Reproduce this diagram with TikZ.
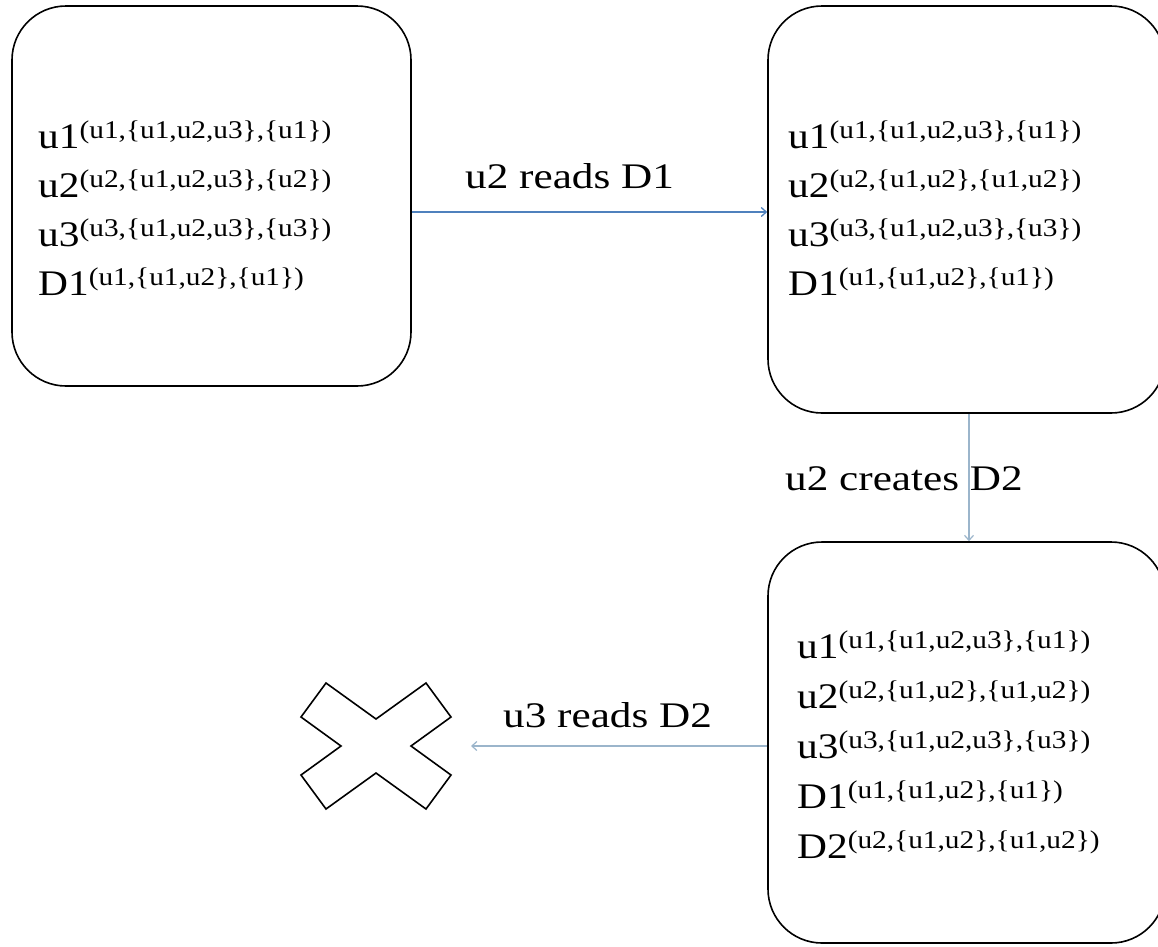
\documentclass[tikz,border=0pt]{standalone}
\usepackage{fontspec}
\usepackage{graphicx}
\setmainfont{Liberation Serif}
\usetikzlibrary{arrows.meta}
\definecolor{arrblue}{HTML}{4F81BD}
\definecolor{arrgrey}{HTML}{9BB5CB}
\newcommand\entry[2]{\scalebox{1.15}[1]{{\fontsize{36}{36}\selectfont #1}\raisebox{9.5pt}{\fontsize{25.5}{25.5}\selectfont #2}}}
\newcommand\lbltext[1]{\scalebox{1.2}[1]{\fontsize{36}{36}\selectfont #1}}
\tikzset{
  statebox/.style={draw=black, line width=1.6pt, rounded corners=54pt, inner sep=0pt},
  entrytxt/.style={anchor=base west, inner sep=0pt},
  arrA/.style={draw=arrblue, line width=1.3pt, -{Straight Barb[length=5pt,width=9pt]}},
  arrB/.style={draw=arrgrey, line width=1.2pt, -{Straight Barb[length=5pt,width=9pt]}},
  crossshape/.style={draw=black, line width=1.6pt, line join=miter},
}
\begin{document}
\begin{tikzpicture}[x=1pt,y=-1pt]
\useasboundingbox (0,0) rectangle (1158,946);
\clip (0,0) rectangle (1158,946);
% boxes
\node[statebox, minimum width=399pt, minimum height=380pt] (A) at (211.5,196) {};
\node[statebox, minimum width=397pt, minimum height=407pt] (B) at (966.5,209.5) {};
\node[statebox, minimum width=397pt, minimum height=401pt] (C) at (966.5,742.5) {};
% box A entries
\node[entrytxt] (a1) at (38,148) {\entry{u1}{(u1,\{u1,u2,u3\},\{u1\})}};
\node[entrytxt] (a2) at (38,197) {\entry{u2}{(u2,\{u1,u2,u3\},\{u2\})}};
\node[entrytxt] (a3) at (38,246) {\entry{u3}{(u3,\{u1,u2,u3\},\{u3\})}};
\node[entrytxt] (a4) at (38,295) {\entry{D1}{(u1,\{u1,u2\},\{u1\})}};
% box B entries
\node[entrytxt] (b1) at (788,148) {\entry{u1}{(u1,\{u1,u2,u3\},\{u1\})}};
\node[entrytxt] (b2) at (788,197) {\entry{u2}{(u2,\{u1,u2\},\{u1,u2\})}};
\node[entrytxt] (b3) at (788,246) {\entry{u3}{(u3,\{u1,u2,u3\},\{u3\})}};
\node[entrytxt] (b4) at (788,295) {\entry{D1}{(u1,\{u1,u2\},\{u1\})}};
% box C entries
\node[entrytxt] (c1) at (797,658) {\entry{u1}{(u1,\{u1,u2,u3\},\{u1\})}};
\node[entrytxt] (c2) at (797,708) {\entry{u2}{(u2,\{u1,u2\},\{u1,u2\})}};
\node[entrytxt] (c3) at (797,758) {\entry{u3}{(u3,\{u1,u2,u3\},\{u3\})}};
\node[entrytxt] (c4) at (797,808) {\entry{D1}{(u1,\{u1,u2\},\{u1\})}};
\node[entrytxt] (c5) at (797,858) {\entry{D2}{(u2,\{u1,u2\},\{u1,u2\})}};
% cross
\coordinate (xc) at (376,746);
\draw[crossshape] (xc) ++(-50,-63) -- ++(-25,34) -- ++(40,29) -- ++(-40,29) -- ++(25,34)
  -- ++(50,-36) -- ++(50,36) -- ++(25,-34) -- ++(-40,-29) -- ++(40,-29) -- ++(-25,-34) -- ++(-50,36) -- cycle;
% helper coordinates
\coordinate (rowAB) at (0,212);
\coordinate (colBC) at (969,0);
\coordinate (rowCX) at (0,746);
\coordinate (xend) at (471,746);
% connectors
\draw[arrA] (A.east |- rowAB) -- (B.west |- rowAB);
\draw[arrB] (B.south -| colBC) -- (C.north -| colBC);
\draw[arrB] (C.west |- rowCX) -- (xend);
% labels
\node[entrytxt] (l1) at (465,188) {\lbltext{u2 reads D1}};
\node[entrytxt] (l2) at (785,490) {\lbltext{u2 creates D2}};
\node[entrytxt] (l3) at (503,727) {\lbltext{u3 reads D2}};
\end{tikzpicture}
\end{document}
